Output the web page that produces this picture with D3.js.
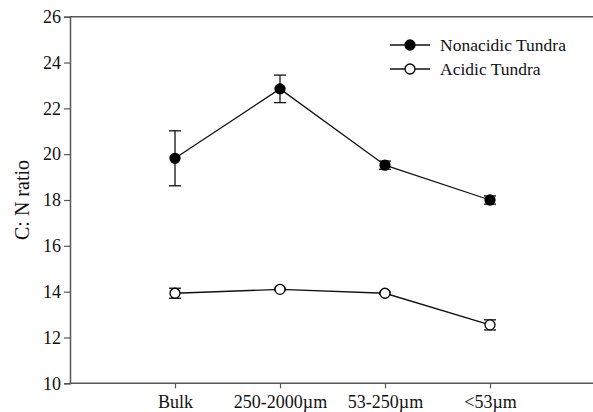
<!DOCTYPE html>
<html>
<head>
<meta charset="utf-8">
<script src="https://cdn.jsdelivr.net/npm/d3@7"></script>
<style>
  body { margin: 0; background: #fff; }
  svg text { font-family: "Liberation Serif", "Times New Roman", serif; fill: #111; }
</style>
</head>
<body>
<div id="container"></div>
<script>
// data
var categories = ["Bulk", "250-2000\u00b5m", "53-250\u00b5m", "<53\u00b5m"];
var nonacidic = [19.82, 22.85, 19.52, 18.0];
var nonacidicErr = [1.2, 0.6, 0.18, 0.18];
var acidic = [13.93, 14.1, 13.93, 12.55];
var acidicErr = [0.22, 0.05, 0.05, 0.22];
var yTicks = [10, 12, 14, 16, 18, 20, 22, 24, 26];
var seriesNames = ["Nonacidic Tundra", "Acidic Tundra"];

// layout (avoid the global name "top")
var width = 593, height = 412,
    mLeft = 70, mRight = 595, mTop = 16.7, mBottom = 383.3;

var svg = d3.select("#container").append("svg")
    .attr("width", width).attr("height", height);

var x = d3.scaleLinear().domain([0, 5]).range([mLeft, mRight]);
var y = d3.scaleLinear().domain([10, 26]).range([mBottom, mTop]);

// top frame line
svg.append("line").attr("x1", mLeft).attr("x2", width).attr("y1", mTop).attr("y2", mTop)
    .attr("stroke", "#555").attr("stroke-width", 1.5);

var yAxis = svg.append("g").attr("transform", "translate(" + mLeft + ",0)")
    .call(d3.axisLeft(y).tickValues(yTicks).tickSize(6).tickPadding(3));
var xAxis = svg.append("g").attr("transform", "translate(0," + mBottom + ")")
    .call(d3.axisBottom(x).tickValues([1, 2, 3, 4])
        .tickFormat(function (d) { return categories[d - 1]; }).tickSize(5).tickPadding(7));

[yAxis, xAxis].forEach(function (g) {
    g.selectAll(".domain").attr("stroke", "#555").attr("stroke-width", 1.5);
    g.selectAll(".tick line").attr("stroke", "#555").attr("stroke-width", 1.2);
    g.selectAll("text").attr("font-size", 18).attr("fill", "#111")
        .attr("font-family", "Liberation Serif, serif");
});
xAxis.select(".domain").attr("d", "M" + mLeft + ",0H" + width);

svg.append("text")
    .attr("transform", "translate(29," + ((mTop + mBottom) / 2) + ") rotate(-90)")
    .attr("text-anchor", "middle")
    .attr("font-size", 20)
    .text("C: N ratio");

function drawSeries(vals, errs, filled) {
    var g = svg.append("g");
    var line = d3.line()
        .x(function (d, i) { return x(i + 1); })
        .y(function (d) { return y(d); });
    g.append("path").datum(vals).attr("d", line)
        .attr("fill", "none").attr("stroke", "#111").attr("stroke-width", 1.3);
    vals.forEach(function (v, i) {
        var cx = x(i + 1), e = errs[i];
        g.append("line").attr("x1", cx).attr("x2", cx)
            .attr("y1", y(v + e)).attr("y2", y(v - e))
            .attr("stroke", "#111").attr("stroke-width", 1.3);
        [v + e, v - e].forEach(function (w) {
            g.append("line").attr("x1", cx - 6).attr("x2", cx + 6)
                .attr("y1", y(w)).attr("y2", y(w))
                .attr("stroke", "#111").attr("stroke-width", 1.3);
        });
        g.append("circle").attr("cx", cx).attr("cy", y(v)).attr("r", 5)
            .attr("fill", filled ? "#000" : "#fff")
            .attr("stroke", "#000").attr("stroke-width", 1.3);
    });
}

drawSeries(nonacidic, nonacidicErr, true);
drawSeries(acidic, acidicErr, false);

// legend
var legend = svg.append("g");
seriesNames.forEach(function (name, i) {
    var ly = 45 + i * 24;
    legend.append("line").attr("x1", 390).attr("x2", 430).attr("y1", ly).attr("y2", ly)
        .attr("stroke", "#111").attr("stroke-width", 1.3);
    legend.append("circle").attr("cx", 410).attr("cy", ly).attr("r", 5)
        .attr("fill", i == 0 ? "#000" : "#fff").attr("stroke", "#000").attr("stroke-width", 1.3);
    legend.append("text").attr("x", 440).attr("y", ly + 6)
        .attr("font-size", 17.5).text(name);
});
</script>
</body>
</html>
